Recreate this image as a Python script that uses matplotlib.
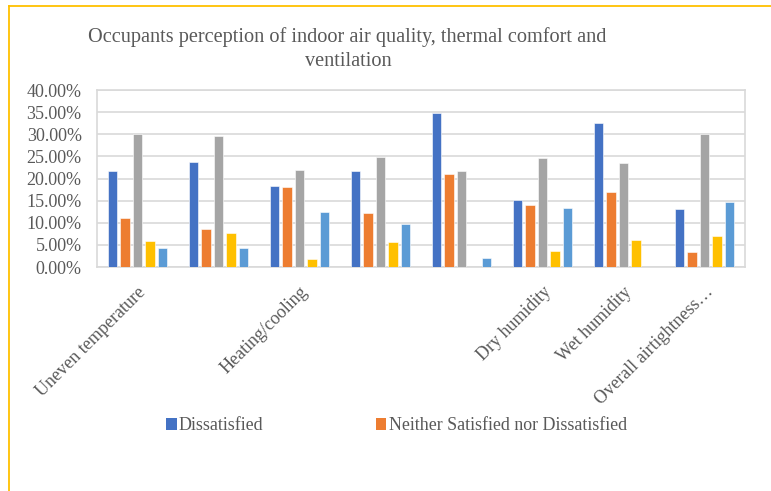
"""Occupants perception of indoor air quality, thermal comfort and ventilation
- grouped bar chart, five response shares per aspect."""

import matplotlib
matplotlib.use('Agg')
import matplotlib.pyplot as plt
from matplotlib.lines import Line2D
from matplotlib.patches import Patch
from matplotlib.ticker import PercentFormatter
import numpy as np

# aspect labels as shown (three are skipped on the axis in the original)
tick_labels = ['Uneven temperature', '', 'Heating/cooling', '', '',
	'Dry humidity', 'Wet humidity', 'Overall airtightness\u2026']

# shares in %, one list per response series
dissatisfied = [21.8, 23.8, 18.4, 21.8, 34.8, 15.2, 32.6, 13.0]
neither = [11.0, 8.6, 18.1, 12.1, 21.1, 14.0, 16.9, 3.5]
series3 = [30.1, 29.7, 21.9, 24.9, 21.8, 24.6, 23.5, 30.1]
series4 = [5.9, 7.7, 1.8, 5.6, 0.0, 3.7, 6.1, 6.9]
series5 = [4.2, 4.2, 12.5, 9.8, 2.0, 13.3, 0.0, 14.8]

series = [dissatisfied, neither, series3, series4, series5]
colors = ['#4472C4', '#ED7D31', '#A5A5A5', '#FFC000', '#5B9BD5']
legend_names = ['Dissatisfied', 'Neither Satisfied nor Dissatisfied']

TXT = '#595959'
SERIF = ['Liberation Serif', 'DejaVu Serif']

fig = plt.figure(figsize=(7.71, 4.91), dpi=100)
ax = fig.add_axes([0.1258, 0.4562, 0.8405, 0.3605])

x = np.arange(len(tick_labels))
step = 0.154
width = 0.12
for i, (vals, c) in enumerate(zip(series, colors)):
	ax.bar(x + (i - 2) * step, vals, width=width, color=c,
		edgecolor='white', linewidth=0.4, zorder=3)

ax.set_xlim(-0.5, len(tick_labels) - 0.5)
ax.set_ylim(0, 40)
ax.set_yticks(np.arange(0, 41, 5))
ax.yaxis.set_major_formatter(PercentFormatter(decimals=2))
ax.grid(axis='y', color='#d9d9d9', lw=1.2, zorder=0)
for s in ax.spines.values():
	s.set_color('#d9d9d9')
	s.set_linewidth(1.2)
ax.tick_params(length=0, labelcolor=TXT, labelsize=13)
ax.tick_params(axis='y', pad=11)
for lab in ax.get_yticklabels():
	lab.set_family(SERIF)

ax.set_xticks(x)
ax.set_xticklabels(tick_labels, rotation=45, ha='right', va='top',
	rotation_mode='anchor', family=SERIF, color=TXT, fontsize=13)
ax.tick_params(axis='x', pad=12)

fig.text(0.4497, 0.925, 'Occupants perception of indoor air quality, thermal comfort and',
	ha='center', va='center', family=SERIF, color=TXT, fontsize=14.6)
fig.text(0.452, 0.874, 'ventilation',
	ha='center', va='center', family=SERIF, color=TXT, fontsize=14.6)

handles = [Patch(facecolor=c) for c in colors[:2]]
fig.legend(handles, legend_names, loc='center', bbox_to_anchor=(0.514, 0.133),
	ncol=2, frameon=False, prop={'family': SERIF, 'size': 12.9},
	labelcolor=TXT, handlelength=0.6, handleheight=0.6, handletextpad=0.13,
	columnspacing=6.25)

# yellow frame at the top and left edges of the slide
fig.add_artist(Line2D([9 / 771, 1], [1 - 6 / 491] * 2, color='#FFC000', lw=1.3))
fig.add_artist(Line2D([9 / 771] * 2, [0, 1 - 6 / 491], color='#FFC000', lw=1.3))

fig.savefig('out.png', dpi=100)
